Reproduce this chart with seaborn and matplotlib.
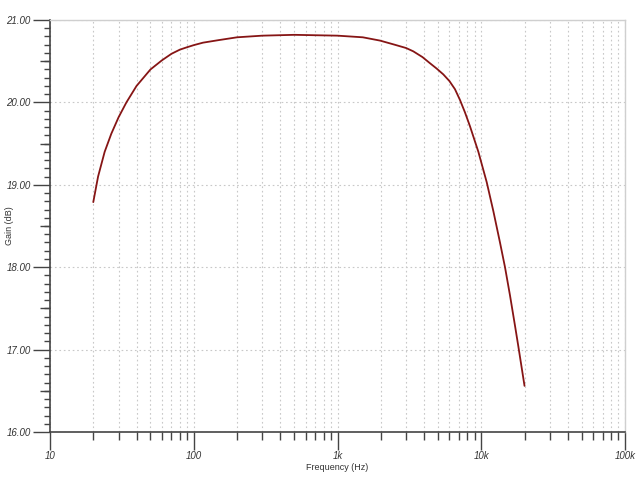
import numpy as np
import pandas as pd
import matplotlib
matplotlib.use("Agg")
import matplotlib.pyplot as plt
import matplotlib.ticker as mticker
import seaborn as sns

# frequency response
freq_hz = [20, 21.6, 24, 26.7, 30, 34, 40, 50, 60, 70, 80, 90, 100, 116, 148,
           200, 300, 500, 1000, 1500, 1977, 2500, 3000, 3365, 3900, 4365, 4900,
           5445, 6000, 6565, 7110, 7700, 8350, 9550, 10920, 12140, 13500, 14630,
           15840, 17170, 18110, 20000]
gain_db = [18.79, 19.10, 19.40, 19.62, 19.82, 20.00, 20.20, 20.40, 20.51, 20.59,
           20.64, 20.67, 20.695, 20.725, 20.755, 20.79, 20.81, 20.82, 20.81, 20.79,
           20.75, 20.70, 20.66, 20.62, 20.55, 20.48, 20.41, 20.34, 20.26, 20.16,
           20.03, 19.88, 19.71, 19.40, 19.03, 18.68, 18.30, 18.00, 17.66, 17.29,
           17.04, 16.56]

x_ticks = [10, 100, 1000, 10000, 100000]
x_tick_labels = ["10", "100", "1k", "10k", "100k"]
y_ticks = [16, 17, 18, 19, 20, 21]
y_half_ticks = [16.5, 17.5, 18.5, 19.5, 20.5]

df = pd.DataFrame({"Frequency": freq_hz, "Gain": gain_db})

sns.set_style("white")
plt.rcParams["font.family"] = ["Liberation Sans", "DejaVu Sans"]

fig = plt.figure(figsize=(6.4, 4.8), dpi=100)
ax = fig.add_axes([50/640, 48/480, 575/640, 412/480])

sns.lineplot(data=df, x="Frequency", y="Gain", ax=ax, color="#861515", linewidth=1.3)

ax.set_xscale("log")
ax.set_xlim(10, 100000)
ax.set_ylim(16, 21)

ax.set_xticks(x_ticks)
ax.set_xticklabels(x_tick_labels)
ax.xaxis.set_minor_locator(mticker.LogLocator(base=10, subs=np.arange(2, 10)))
ax.xaxis.set_minor_formatter(mticker.NullFormatter())
ax.set_yticks(y_ticks)
ax.yaxis.set_major_formatter(mticker.FormatStrFormatter("%.2f"))
ax.yaxis.set_minor_locator(mticker.MultipleLocator(0.1))

grid_kw = dict(color="#c8c8c8", linestyle=(0, (1.5, 2.5)), linewidth=0.8)
ax.grid(True, which="major", axis="both", **grid_kw)
ax.grid(True, which="minor", axis="x", **grid_kw)

ax.tick_params(axis="both", which="both", bottom=True, left=True, top=False, right=False)
ax.tick_params(axis="x", which="major", direction="out", length=13, width=1,
               color="#444444", labelsize=7, labelcolor="#333333", pad=1)
ax.tick_params(axis="y", which="major", direction="out", length=12, width=1,
               color="#444444", labelsize=7, labelcolor="#333333", pad=2)
ax.tick_params(axis="x", which="minor", direction="out", length=6, width=1,
               color="#444444")
ax.tick_params(axis="y", which="minor", direction="out", length=4, width=1,
               color="#444444")
for lab in ax.get_xticklabels() + ax.get_yticklabels():
    lab.set_fontstyle("italic")

# longer tick at each half unit on the gain axis
sec = ax.secondary_yaxis("left")
sec.set_yticks(y_half_ticks)
sec.set_yticklabels([])
sec.tick_params(left=True, direction="out", length=7, width=1, color="#444444")
sec.spines["left"].set_visible(False)

for side in ["left", "bottom"]:
    ax.spines[side].set_color("#444444")
    ax.spines[side].set_linewidth(1.2)
for side in ["top", "right"]:
    ax.spines[side].set_color("#cfcfcf")
    ax.spines[side].set_linewidth(1.0)

ax.set_xlabel("Frequency (Hz)", fontsize=6.5, color="#333333")
ax.set_ylabel("Gain (dB)", fontsize=6.5, color="#333333")
ax.xaxis.set_label_coords(0.5, -0.075)
ax.yaxis.set_label_coords(-0.062, 0.5)

fig.savefig("out.png", dpi=100, facecolor="white")
